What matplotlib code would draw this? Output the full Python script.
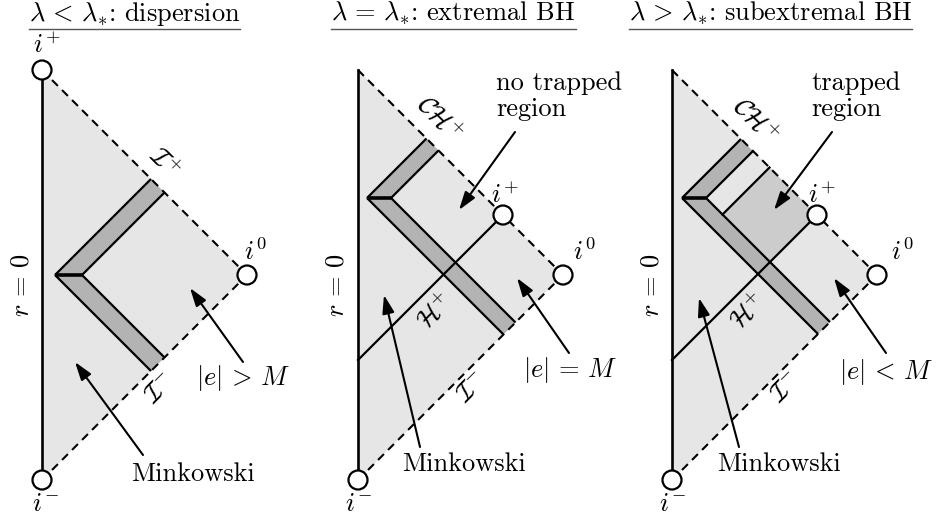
import matplotlib
matplotlib.use('Agg')
import matplotlib.pyplot as plt
from matplotlib.patches import Polygon, Circle

plt.rcParams['mathtext.fontset'] = 'cm'
plt.rcParams['font.family'] = 'cmr10'
plt.rcParams['axes.unicode_minus'] = False

# ---------------- data (null-coordinate geometry, diagram units) ----------------
titles = [r"$\lambda\,<\,\lambda_{*}$: dispersion",
          r"$\lambda\,=\,\lambda_{*}$: extremal BH",
          r"$\lambda\,>\,\lambda_{*}$: subextremal BH"]
charge_labels = [r"$|e|\,>\,M$", r"$|e|\,=\,M$", r"$|e|\,<\,M$"]
region_labels = [None, "no trapped\nregion", "trapped\nregion"]
half = 205                      # diamond half-size
shell_apex_X = [13, 9, 10]      # apex of shell (X, T)
shell_apex_T = [0, 77, 77]
shell_width = [27, 24, 24]
horizon_u = [None, -85, -85]    # u = T - X of event horizon
trapped_u = [None, None, 10]    # u of apparent horizon boundary

# ---------------- layout ----------------
W, H = 936, 523
panel_x0 = [42, 358, 672]
mid_y = 275
title_cx = [134.5, 453.5, 770.5]

LIGHT = '#e6e6e6'
BAND = '#b3b3b3'
TRAP = '#cccccc'
FS = 19

fig = plt.figure(figsize=(W / 100, H / 100), dpi=100)
ax = fig.add_axes([0, 0, 1, 1])
ax.set_xlim(0, W)
ax.set_ylim(H, 0)
ax.axis('off')


def P(k, u, v):
    X = (v - u) / 2.0
    T = (v + u) / 2.0
    return (panel_x0[k] + X, mid_y - T)


def circ(k, u, v):
    ax.add_patch(Circle(P(k, u, v), 9.5, facecolor='white', edgecolor='k',
                        lw=1.6, zorder=10))


arrow_kw = dict(arrowstyle='-|>,head_length=0.55,head_width=0.18', color='k',
                lw=1.5, mutation_scale=20, shrinkA=0, shrinkB=0)

for k in range(3):
    top = (half, half)      # (u, v) of top of r=0 axis
    bot = (-half, -half)
    i0 = (-half, half)
    # diamond fill
    ax.add_patch(Polygon([P(k, *top), P(k, *i0), P(k, *bot)], closed=True,
                         facecolor=LIGHT, edgecolor='none', zorder=1))
    # shell
    ua = shell_apex_T[k] - shell_apex_X[k]
    va = shell_apex_T[k] + shell_apex_X[k]
    w = shell_width[k]
    ui, vi = ua - w, va + w
    upper = [P(k, ua, va), P(k, ua, half), P(k, ui, half), P(k, ui, vi)]
    lower = [P(k, ua, va), P(k, ui, vi), P(k, -half, vi), P(k, -half, va)]
    for poly in (upper, lower):
        ax.add_patch(Polygon(poly, closed=True, facecolor=BAND, edgecolor='none',
                             zorder=2))
    # trapped region
    if trapped_u[k] is not None:
        ut, uh = trapped_u[k], horizon_u[k]
        ax.add_patch(Polygon([P(k, uh, vi), P(k, ut, vi), P(k, ut, half), P(k, uh, half)],
                             closed=True, facecolor=TRAP, edgecolor='none', zorder=2))
        a, b = P(k, ut, vi), P(k, ut, half)
        ax.plot([a[0], b[0]], [a[1], b[1]], color='k', lw=1.6, zorder=4)
    # shell outlines
    for (u0, v0, u1, v1) in [(ua, va, ua, half), (ui, vi, ui, half),
                             (ua, va, -half, va), (ui, vi, -half, vi)]:
        a, b = P(k, u0, v0), P(k, u1, v1)
        ax.plot([a[0], b[0]], [a[1], b[1]], color='k', lw=1.6, zorder=4,
                solid_capstyle='butt')
    a, b = P(k, ua, va), P(k, ui, vi)
    ax.plot([a[0], b[0]], [a[1], b[1]], color='k', lw=2.6, zorder=4,
            solid_capstyle='butt')
    # horizon
    if horizon_u[k] is not None:
        uh = horizon_u[k]
        a, b = P(k, uh, uh), P(k, uh, half)
        ax.plot([a[0], b[0]], [a[1], b[1]], color='k', lw=1.6, zorder=4)
    # scri
    for (s, e) in [(top, i0), (bot, i0)]:
        a, b = P(k, *s), P(k, *e)
        ax.plot([a[0], b[0]], [a[1], b[1]], color='k', lw=1.5, zorder=5,
                linestyle=(0, (4, 2.8)))
    # r = 0 axis
    a, b = P(k, *top), P(k, *bot)
    ax.plot([a[0], b[0]], [a[1], b[1]], color='k', lw=1.9, zorder=5)
    # circles
    circ(k, *bot)
    circ(k, *i0)
    if k == 0:
        circ(k, *top)
    else:
        circ(k, horizon_u[k], half)

    # title with underline
    t = ax.text(title_cx[k], 21, titles[k], fontsize=FS, ha='center', va='baseline')
    fig.canvas.draw()
    bb = t.get_window_extent().transformed(ax.transData.inverted())
    ax.plot([min(bb.x0, bb.x1), max(bb.x0, bb.x1)], [28.5, 28.5], color='#555555',
            lw=1.0, zorder=6)

# panel 1 labels
ax.text(47, 45, r"$i^{+}$", fontsize=FS, ha='center', va='center')
ax.text(45, 504, r"$i^{-}$", fontsize=FS, ha='center', va='center')
ax.text(255, 252, r"$i^{0}$", fontsize=FS, ha='center', va='center')
ax.text(22, 285, r"$r\,=\,0$", fontsize=FS, ha='center', va='center', rotation=90)
ax.text(164, 163, r"$\mathcal{I}^{+}$", fontsize=FS, ha='center', va='center', rotation=-45)
ax.text(160, 389, r"$\mathcal{I}^{-}$", fontsize=FS, ha='center', va='center', rotation=45)
ax.text(243, 378, charge_labels[0], fontsize=FS, ha='center', va='center')
ax.annotate('', xy=(190, 288), xytext=(243, 362), arrowprops=arrow_kw, zorder=8)
ax.text(193, 474, "Minkowski", fontsize=FS, ha='center', va='center')
ax.annotate('', xy=(75, 362), xytext=(143, 455), arrowprops=arrow_kw, zorder=8)

# panel 2 labels
ax.text(505, 195, r"$i^{+}$", fontsize=FS, ha='center', va='center')
ax.text(358, 504, r"$i^{-}$", fontsize=FS, ha='center', va='center')
ax.text(584, 252, r"$i^{0}$", fontsize=FS, ha='center', va='center')
ax.text(337, 285, r"$r\,=\,0$", fontsize=FS, ha='center', va='center', rotation=90)
ax.text(440, 118, r"$\mathcal{CH}^{+}$", fontsize=FS, ha='center', va='center', rotation=-45)
ax.text(434, 311, r"$\mathcal{H}^{+}$", fontsize=FS, ha='center', va='center', rotation=45)
ax.text(472, 388, r"$\mathcal{I}^{-}$", fontsize=FS, ha='center', va='center', rotation=45)
ax.text(496, 96, region_labels[1], fontsize=FS, ha='left', va='center', linespacing=1.15)
ax.annotate('', xy=(459, 210), xytext=(515, 132), arrowprops=arrow_kw, zorder=8)
ax.text(570, 370, charge_labels[1], fontsize=FS, ha='center', va='center')
ax.annotate('', xy=(517, 278), xytext=(569, 353), arrowprops=arrow_kw, zorder=8)
ax.text(464, 464, "Minkowski", fontsize=FS, ha='center', va='center')
ax.annotate('', xy=(384, 295), xytext=(420, 447), arrowprops=arrow_kw, zorder=8)

# panel 3 labels
ax.text(822, 195, r"$i^{+}$", fontsize=FS, ha='center', va='center')
ax.text(672, 504, r"$i^{-}$", fontsize=FS, ha='center', va='center')
ax.text(902, 252, r"$i^{0}$", fontsize=FS, ha='center', va='center')
ax.text(652, 285, r"$r\,=\,0$", fontsize=FS, ha='center', va='center', rotation=90)
ax.text(756, 120, r"$\mathcal{CH}^{+}$", fontsize=FS, ha='center', va='center', rotation=-45)
ax.text(747, 311, r"$\mathcal{H}^{+}$", fontsize=FS, ha='center', va='center', rotation=45)
ax.text(786, 388, r"$\mathcal{I}^{-}$", fontsize=FS, ha='center', va='center', rotation=45)
ax.text(811, 96, region_labels[2], fontsize=FS, ha='left', va='center', linespacing=1.15)
ax.annotate('', xy=(774, 210), xytext=(832, 132), arrowprops=arrow_kw, zorder=8)
ax.text(886, 372, charge_labels[2], fontsize=FS, ha='center', va='center')
ax.annotate('', xy=(834, 278), xytext=(886, 353), arrowprops=arrow_kw, zorder=8)
ax.text(779, 464, "Minkowski", fontsize=FS, ha='center', va='center')
ax.annotate('', xy=(699, 298), xytext=(739, 447), arrowprops=arrow_kw, zorder=8)

fig.savefig('out.png', dpi=100)
